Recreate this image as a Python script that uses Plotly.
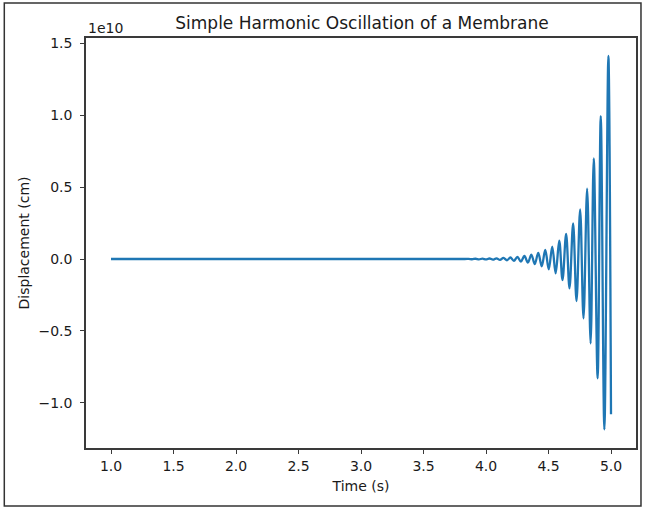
import plotly.graph_objects as go

# Time (s) of the drawn points (flat part + oscillation extrema)
time_s = [1.0, 3.83,
          3.861, 3.889, 3.917, 3.944, 3.972, 4.000, 4.028, 4.056, 4.084, 4.112,
          4.140, 4.168, 4.195, 4.223, 4.251, 4.279, 4.307, 4.335, 4.363, 4.390,
          4.418, 4.446, 4.474, 4.502, 4.530, 4.557, 4.586, 4.612, 4.641, 4.668,
          4.697, 4.724, 4.753, 4.780, 4.809, 4.837, 4.862, 4.893, 4.918, 4.947,
          4.979, 5.0]
# Displacement in units of 1e10 cm
displacement_e10 = [0.0, 0.0,
                    0.0013, -0.0015, 0.0018, -0.0022, 0.0026, -0.0031, 0.0037, -0.0044, 0.0052, -0.0062,
                    0.0074, -0.0088, 0.0105, -0.0125, 0.015, -0.018, 0.021, -0.025, 0.030, -0.036,
                    0.043, -0.051, 0.063, -0.072, 0.086, -0.10, 0.127, -0.146, 0.174, -0.204,
                    0.248, -0.292, 0.346, -0.413, 0.49, -0.587, 0.70, -0.83, 0.995, -1.185,
                    1.413, -1.08]
SCALE = 1e10

x_tick_vals = [1.0, 1.5, 2.0, 2.5, 3.0, 3.5, 4.0, 4.5, 5.0]
x_tick_text = ["1.0", "1.5", "2.0", "2.5", "3.0", "3.5", "4.0", "4.5", "5.0"]
y_tick_vals = [-1.0, -0.5, 0.0, 0.5, 1.0, 1.5]
y_tick_text = ["\u22121.0", "\u22120.5", "0.0", "0.5", "1.0", "1.5"]

FONT = "DejaVu Sans"
AXIS_COLOR = "#3a3a3a"
TEXT_COLOR = "#1a1a1a"

fig = go.Figure()
fig.add_trace(go.Scatter(
    x=time_s,
    y=[v * SCALE for v in displacement_e10],
    mode="lines",
    line=dict(color="#1f77b4", width=2.3, shape="spline", smoothing=1.0),
    showlegend=False,
    hoverinfo="skip",
))

W, H = 647, 508
L, R, T, B = 86, 9, 38, 60
pw, ph = W - L - R, H - T - B

fig.update_layout(
    width=W, height=H,
    margin=dict(l=L, r=R, t=T, b=B, pad=0),
    paper_bgcolor="white",
    plot_bgcolor="white",
    font=dict(family=FONT, size=14, color=TEXT_COLOR),
    title=dict(
        text="Simple Harmonic Oscillation of a Membrane",
        x=(L + pw / 2) / W, xanchor="center",
        y=1 - 23 / H, yanchor="middle",
        font=dict(family=FONT, size=17, color=TEXT_COLOR),
    ),
    xaxis=dict(
        range=[0.8, 5.2],
        tickvals=x_tick_vals, ticktext=x_tick_text,
        ticks="outside", ticklen=4, tickwidth=1.2, tickcolor=AXIS_COLOR,
        showline=True, linecolor=AXIS_COLOR, linewidth=1.5, mirror=True,
        showgrid=False, zeroline=False,
        tickfont=dict(family=FONT, size=14, color=TEXT_COLOR),
        title=dict(text="Time (s)", standoff=9, font=dict(family=FONT, size=14, color=TEXT_COLOR)),
    ),
    yaxis=dict(
        range=[-1.315 * SCALE, 1.538 * SCALE],
        tickvals=[v * SCALE for v in y_tick_vals], ticktext=y_tick_text,
        ticks="outside", ticklen=4, tickwidth=1.2, tickcolor=AXIS_COLOR,
        ticklabelstandoff=5,
        showline=True, linecolor=AXIS_COLOR, linewidth=1.5, mirror=True,
        showgrid=False, zeroline=False,
        tickfont=dict(family=FONT, size=14, color=TEXT_COLOR),
        title=dict(text="Displacement (cm)", standoff=6, font=dict(family=FONT, size=14, color=TEXT_COLOR)),
    ),
)

# "1e10" offset label above the y axis
fig.add_annotation(
    text="1e10", xref="paper", yref="paper",
    x=0, y=(H - B - 38) / ph, xanchor="left", yanchor="bottom",
    showarrow=False, font=dict(family=FONT, size=14, color=TEXT_COLOR),
)

# outer frame of the picture
fig.add_shape(
    type="rect", xref="paper", yref="paper",
    x0=(4 - L) / pw, x1=(643 - L) / pw,
    y0=(H - B - 506) / ph, y1=(H - B - 3) / ph,
    line=dict(color="#333", width=1.5), fillcolor="rgba(0,0,0,0)", layer="below",
)

fig.write_html("out.html")
